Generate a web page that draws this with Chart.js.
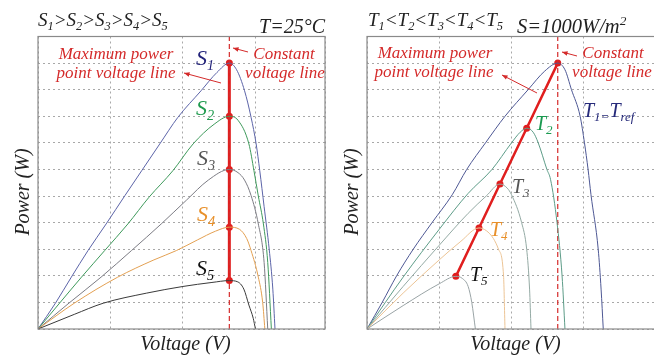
<!DOCTYPE html>
<html>
<head>
<meta charset="utf-8">
<script src="https://cdn.jsdelivr.net/npm/chart.js@4"></script>
<style>
  html, body { margin: 0; padding: 0; background: #fff; overflow: hidden; width: 654px; height: 356px; }
  canvas { position: absolute; top: 0; }
  #left { left: 0; }
  #right { left: 330px; }
</style>
</head>
<body>
<canvas id="left" width="330" height="356"></canvas>
<canvas id="right" width="330" height="356"></canvas>
<script>
// P-V curves, [voltage, power] (axis units = grid divisions)
// left: different irradiance S1..S5, T = 25 C
const s1 = [[0,0],[0.24,0.97],[0.46,1.95],[0.69,2.95],[0.94,3.95],[1.2,5.02],[1.43,5.95],[1.68,6.96],[1.93,7.96],[2.25,8.96],[2.47,9.65],[2.64,10],[2.74,9.75],[2.85,8.96],[2.94,7.96],[3.01,6.96],[3.06,5.95],[3.12,4.6],[3.19,3.0],[3.24,1.5],[3.27,0]];
const s2 = [[0,0],[0.3,0.98],[0.6,1.95],[0.92,2.95],[1.24,3.95],[1.53,4.95],[1.86,5.95],[2.14,6.96],[2.43,7.7],[2.64,8],[2.76,7.85],[2.91,6.96],[2.98,5.95],[3.04,5.0],[3.11,3.95],[3.17,2.5],[3.22,0]];
const s3 = [[0,0],[0.43,0.98],[0.87,1.95],[1.29,2.95],[1.7,3.95],[2.05,4.85],[2.35,5.6],[2.64,6],[2.76,5.88],[2.85,5.6],[2.94,5.02],[3.04,3.95],[3.12,2.5],[3.17,0]];
const s4 = [[0,0],[0.5,0.97],[1.1,1.95],[1.6,2.6],[1.91,2.95],[2.2,3.35],[2.45,3.68],[2.64,3.83],[2.78,3.75],[2.88,3.4],[2.94,2.95],[3.04,1.95],[3.1,1.0],[3.13,0]];
const s5 = [[0,0],[0.5,0.55],[0.9,0.97],[1.5,1.35],[2.0,1.6],[2.4,1.75],[2.64,1.82],[2.75,1.78],[2.84,1.5],[2.91,0.9],[2.97,0.4],[3.0,0]];
const mppLeft = [[2.64,1.82],[2.64,3.83],[2.64,6],[2.64,8],[2.64,10]];
const cvLeft = 2.64;

// right: different temperature T1..T5, S = 1000 W/m2
const t1 = [[0,0],[0.21,1],[0.41,2],[0.64,3],[0.9,4],[1.18,5.05],[1.38,6],[1.64,7],[1.91,8],[2.23,9],[2.46,9.7],[2.64,10],[2.74,9.75],[2.83,9],[2.95,8],[3.01,7],[3.06,6],[3.1,5.05],[3.2,3],[3.24,1.5],[3.27,0]];
const t2 = [[0,0],[0.5,1.95],[1.0,3.75],[1.4,5.1],[1.73,6.0],[2.0,7.0],[2.12,7.4],[2.21,7.55],[2.3,7.4],[2.37,7],[2.49,6],[2.54,5.63],[2.63,4],[2.7,2],[2.74,0]];
const t3 = [[0,0],[0.5,1.6],[1.0,3.15],[1.4,4.35],[1.65,5.0],[1.84,5.45],[1.94,5.3],[2.0,5.05],[2.14,4],[2.21,3],[2.25,1.5],[2.27,0]];
const t4 = [[0,0],[0.5,1.35],[1.0,2.6],[1.3,3.3],[1.55,3.8],[1.65,3.7],[1.75,3.4],[1.82,3],[1.89,2],[1.91,0]];
const t5 = [[0,0],[0.5,0.88],[1.0,1.7],[1.23,1.98],[1.32,1.9],[1.4,1.6],[1.45,1],[1.5,0]];
const mppRight = [[1.23,1.98],[1.55,3.8],[1.84,5.45],[2.21,7.55],[2.64,10]];
const cvRight = 2.64;

const yMax = 11;
const SERIF = '"Liberation Serif", "DejaVu Serif", serif';
const RED = '#d42a2a';

function toXY(arr) {
  return arr.map(p => ({x: p[0], y: p[1]}));
}

// parts: [text, 0 normal | 1 subscript | 2 superscript]
function rich(ctx, x, y, parts, size, color, align) {
  ctx.save();
  ctx.fillStyle = color;
  ctx.textAlign = 'left';
  ctx.textBaseline = 'alphabetic';
  let w = 0;
  parts.forEach(p => {
    ctx.font = 'italic ' + (p[1] ? size * 0.65 : size) + 'px ' + SERIF;
    w += ctx.measureText(p[0]).width;
  });
  let cx = x;
  if (align === 'right') cx = x - w;
  if (align === 'center') cx = x - w / 2;
  parts.forEach(p => {
    let s = p[1] ? size * 0.65 : size;
    let dy = p[1] === 1 ? size * 0.22 : (p[1] === 2 ? -size * 0.38 : 0);
    ctx.font = 'italic ' + s + 'px ' + SERIF;
    ctx.fillText(p[0], cx, y + dy);
    cx += ctx.measureText(p[0]).width;
  });
  ctx.restore();
}

function arrow(ctx, x1, y1, x2, y2) {
  let a = Math.atan2(y2 - y1, x2 - x1);
  ctx.save();
  ctx.strokeStyle = RED;
  ctx.fillStyle = RED;
  ctx.lineWidth = 1;
  ctx.beginPath();
  ctx.moveTo(x1, y1);
  ctx.lineTo(x2, y2);
  ctx.stroke();
  ctx.beginPath();
  ctx.moveTo(x2, y2);
  ctx.lineTo(x2 - 6 * Math.cos(a - 0.4), y2 - 6 * Math.sin(a - 0.4));
  ctx.lineTo(x2 - 6 * Math.cos(a + 0.4), y2 - 6 * Math.sin(a + 0.4));
  ctx.closePath();
  ctx.fill();
  ctx.restore();
}

function makeChart(id, cfg) {
  let datasets = cfg.curves.map(c => ({
    data: toXY(c.pts),
    borderColor: c.color,
    borderWidth: 1,
    pointRadius: 0,
    showLine: true,
    cubicInterpolationMode: 'monotone'
  }));
  datasets.push({
    data: [{x: cfg.cv, y: 0}, {x: cfg.cv, y: yMax}],
    borderColor: RED,
    borderWidth: 1.2,
    borderDash: [5, 3],
    pointRadius: 0,
    showLine: true
  });
  datasets.push({
    data: toXY(cfg.mpp),
    borderColor: '#e01e1e',
    backgroundColor: '#e01e1e',
    borderWidth: cfg.mppWidth,
    pointRadius: 3.5,
    pointBorderWidth: 0,
    showLine: true
  });

  let decor = {
    id: 'decor',
    afterDraw(chart) {
      let ctx = chart.ctx;
      let a = chart.chartArea;
      ctx.save();
      ctx.strokeStyle = '#8a8a8a';
      ctx.lineWidth = 1.2;
      ctx.strokeRect(a.left, a.top, a.right - a.left, a.bottom - a.top);
      ctx.restore();
      cfg.texts(ctx, a);
    }
  };

  return new Chart(document.getElementById(id), {
    type: 'scatter',
    data: {datasets: datasets},
    options: {
      responsive: false,
      animation: false,
      devicePixelRatio: 1,
      layout: {padding: {left: cfg.padLeft, right: cfg.padRight, top: 36.5, bottom: 27}},
      plugins: {legend: {display: false}, tooltip: {enabled: false}},
      scales: {
        x: {
          type: 'linear', min: 0, max: cfg.xMax,
          ticks: {display: false, stepSize: 1},
          grid: {color: '#a8a8a8', lineWidth: 1, drawTicks: false},
          border: {display: false, dash: [2, 3]}
        },
        y: {
          type: 'linear', min: 0, max: yMax,
          ticks: {display: false, stepSize: 1},
          grid: {color: '#a8a8a8', lineWidth: 1, drawTicks: false},
          border: {display: false, dash: [2, 3]}
        }
      }
    },
    plugins: [decor]
  });
}

function axisLabels(ctx, a, yLabelX) {
  ctx.save();
  ctx.fillStyle = '#222';
  ctx.font = 'italic 20px ' + SERIF;
  ctx.textAlign = 'center';
  ctx.textBaseline = 'alphabetic';
  ctx.fillText('Voltage (V)', (a.left + a.right) / 2 + 4, 350);
  ctx.translate(yLabelX, 192);
  ctx.rotate(-Math.PI / 2);
  ctx.textBaseline = 'middle';
  ctx.fillText('Power (W)', 0, 0);
  ctx.restore();
}

makeChart('left', {
  padLeft: 38, padRight: 5, xMax: 3.96, cv: cvLeft, mpp: mppLeft, mppWidth: 3,
  curves: [
    {pts: s5, color: '#3a3a3a'},
    {pts: s4, color: '#e3a052'},
    {pts: s3, color: '#7c7c84'},
    {pts: s2, color: '#3f9a5c'},
    {pts: s1, color: '#5c64a8'}
  ],
  texts(ctx, a) {
    rich(ctx, 38, 26, [['S',0],['1',1],['>S',0],['2',1],['>S',0],['3',1],['>S',0],['4',1],['>S',0],['5',1]], 19, '#222', 'left');
    rich(ctx, 325, 33, [['T=25°C',0]], 20, '#222', 'right');
    rich(ctx, 116, 59, [['Maximum power',0]], 17, RED, 'center');
    rich(ctx, 116, 78, [['point voltage line',0]], 17, RED, 'center');
    rich(ctx, 284, 59, [['Constant',0]], 17, RED, 'center');
    rich(ctx, 285, 78, [['voltage line',0]], 17, RED, 'center');
    arrow(ctx, 221, 83, 184, 73);
    arrow(ctx, 248, 52, 233, 48);
    rich(ctx, 196, 65, [['S',0],['1',1]], 22, '#23237a', 'left');
    rich(ctx, 196, 115, [['S',0],['2',1]], 22, '#1f9a4e', 'left');
    rich(ctx, 197, 165, [['S',0],['3',1]], 22, '#555', 'left');
    rich(ctx, 197, 221, [['S',0],['4',1]], 22, '#e8902a', 'left');
    rich(ctx, 196, 275, [['S',0],['5',1]], 22, '#111', 'left');
    axisLabels(ctx, a, 24);
  }
});

makeChart('right', {
  padLeft: 37, padRight: 4, xMax: 4, cv: cvRight, mpp: mppRight, mppWidth: 2.5,
  curves: [
    {pts: t5, color: '#9aa4a6'},
    {pts: t4, color: '#ecc495'},
    {pts: t3, color: '#94aaa4'},
    {pts: t2, color: '#5d9c88'},
    {pts: t1, color: '#4e5894'}
  ],
  texts(ctx, a) {
    let o = 330;
    rich(ctx, 368 - o, 26, [['T',0],['1',1],['<T',0],['2',1],['<T',0],['3',1],['<T',0],['4',1],['<T',0],['5',1]], 19, '#222', 'left');
    rich(ctx, 517 - o, 33, [['S=1000W/m',0],['2',2]], 20.5, '#222', 'left');
    rich(ctx, 435 - o, 58, [['Maximum power',0]], 17, RED, 'center');
    rich(ctx, 434 - o, 77, [['point voltage line',0]], 17, RED, 'center');
    rich(ctx, 613 - o, 58, [['Constant',0]], 17, RED, 'center');
    rich(ctx, 612 - o, 77, [['voltage line',0]], 17, RED, 'center');
    arrow(ctx, 537 - o, 93, 502 - o, 75);
    arrow(ctx, 577 - o, 56, 562 - o, 52);
    rich(ctx, 583 - o, 117, [['T',0],['1=',1],['T',0],['ref',1]], 20, '#262a7a', 'left');
    rich(ctx, 535 - o, 130, [['T',0],['2',1]], 20, '#1a9a50', 'left');
    rich(ctx, 512 - o, 193, [['T',0],['3',1]], 20, '#555', 'left');
    rich(ctx, 490 - o, 236, [['T',0],['4',1]], 20, '#e8902a', 'left');
    rich(ctx, 470 - o, 281, [['T',0],['5',1]], 20, '#111', 'left');
    axisLabels(ctx, a, 23);
  }
});
</script>
</body>
</html>
